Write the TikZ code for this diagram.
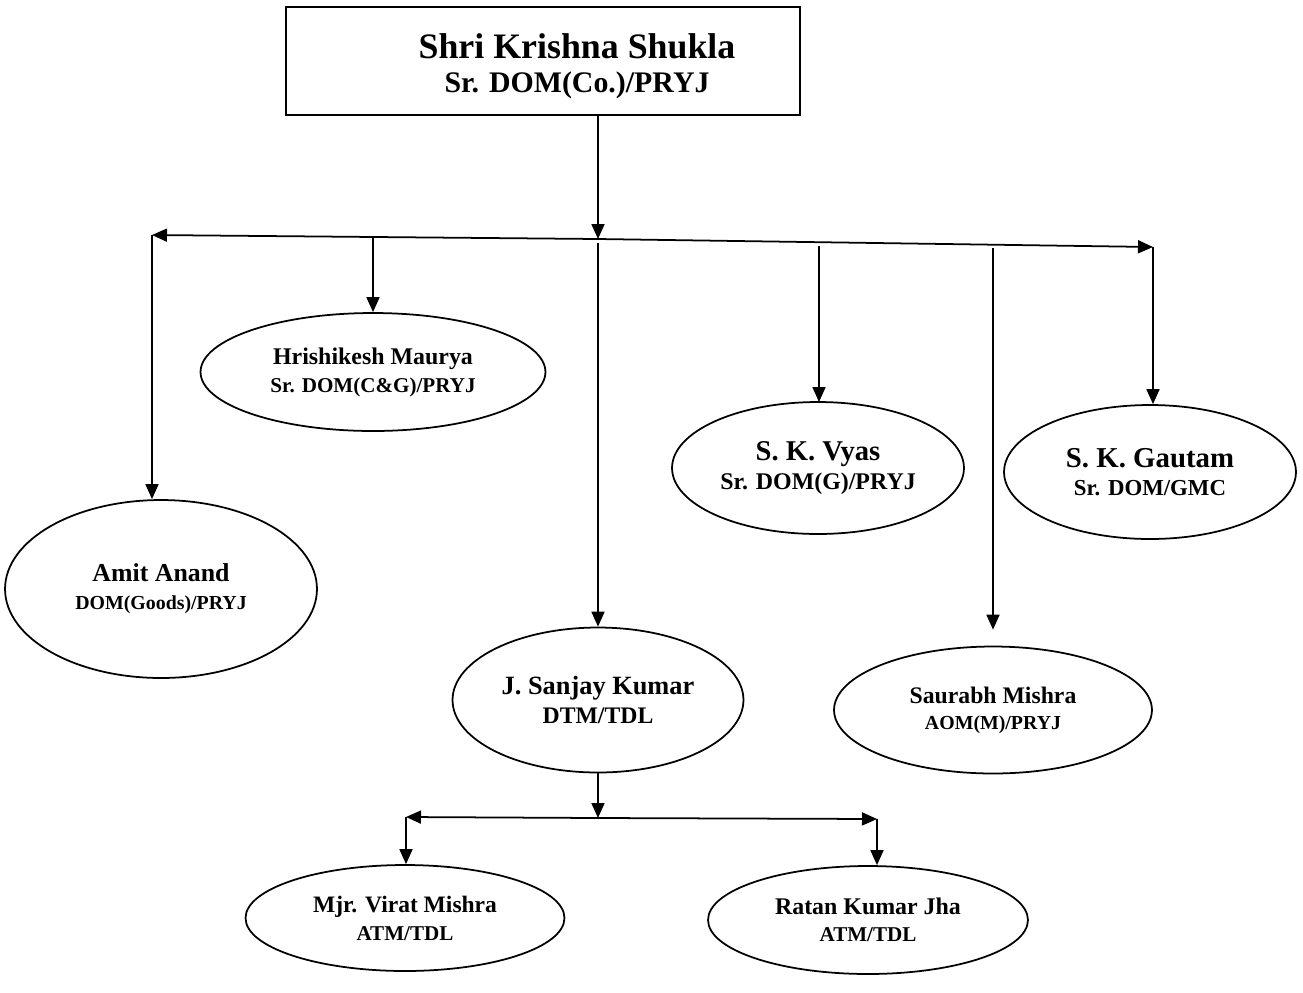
\documentclass[tikz,border=0pt]{standalone}
\usepackage{fontspec}
\setmainfont{Liberation Serif}
\usetikzlibrary{arrows.meta,shapes.geometric,positioning}
\newcommand{\fs}[2]{\fontsize{#1}{#2}\selectfont}
\tikzset{
  person/.style={ellipse, draw, line width=1pt, inner sep=0pt, align=center},
  chief/.style={rectangle, draw, line width=1pt, inner sep=0pt},
  link/.style={line width=1pt, -{Triangle[length=0.3cm,width=0.26cm]}}
}

\begin{document}
\begin{tikzpicture}[x=0.02cm,y=-0.02cm]
\useasboundingbox (0,0) rectangle (1303,992);
% head of the division
\node[chief, minimum width=10.28cm, minimum height=2.16cm] (boss) at (543,61) {};
\node[align=center, inner sep=0pt, font=\bfseries\fs{17}{19.3}] (boss-name) at (577,66)
  {{\fs{20.4}{19.3}Shri Krishna Shukla}\\ Sr. DOM(Co.)/PRYJ};
% first level
\node[person, minimum width=6.9cm, minimum height=2.36cm, font=\bfseries\fs{12}{15.9}] (hrishi) at (373,372)
  {{\fs{13.6}{15.9}Hrishikesh Maurya}\\ Sr. DOM(C\&G)/PRYJ};
\node[person, minimum width=6.24cm, minimum height=3.56cm, font=\bfseries\fs{11.3}{15.9}] (amit) at (161,589)
  {{\fs{14.7}{15.9}Amit Anand}\\ DOM(Goods)/PRYJ};
\node[person, minimum width=5.82cm, minimum height=2.9cm, font=\bfseries\fs{13.5}{17}] (sanjay) at (598,700)
  {{\fs{15}{17}J. Sanjay Kumar}\\ DTM/TDL};
\node[person, minimum width=5.84cm, minimum height=2.64cm, font=\bfseries\fs{13.6}{16.4}] (vyas) at (818,468)
  {{\fs{16.3}{16.4}S. K. Vyas}\\ Sr. DOM(G)/PRYJ};
\node[person, minimum width=5.84cm, minimum height=2.68cm, font=\bfseries\fs{13}{15.9}] (gautam) at (1150,472)
  {{\fs{16.4}{15.9}S. K. Gautam}\\ Sr. DOM/GMC};
\node[person, minimum width=6.36cm, minimum height=2.54cm, font=\bfseries\fs{11.3}{14.7}] (saurabh) at (993,710)
  {{\fs{13.5}{14.7}Saurabh Mishra}\\ AOM(M)/PRYJ};
% second level
\node[person, minimum width=6.38cm, minimum height=2.12cm, font=\bfseries\fs{12}{15.9}] (virat) at (405,918)
  {{\fs{13.4}{15.9}Mjr. Virat Mishra}\\ ATM/TDL};
\node[person, minimum width=6.4cm, minimum height=2.16cm, font=\bfseries\fs{12}{15.3}] (ratan) at (868,920)
  {{\fs{13.6}{15.3}Ratan Kumar Jha}\\ ATM/TDL};
% bus lines
\coordinate (top) at (598,239);
\coordinate (busL) at (152,235);
\coordinate (busR) at (1153,247);
\draw[link] (boss.south -| top) -- (top);
\draw[link] (top) -- (busL);
\draw[link] (top) -- (busR);
\draw[link] (busL) -- (busL |- amit.north);
\draw[link] (373,238) -- (hrishi.north);
\draw[link] (598,243) -- (sanjay.north);
\draw[link] (819,246) -- (819,402);
\draw[link, shorten >=0.32cm] (993,248) -- (saurabh.north);
\draw[link] (busR) -- (busR |- gautam.north);
% under J. Sanjay Kumar
\coordinate (subtop) at (598,818);
\coordinate (subL) at (406,817);
\coordinate (subR) at (877,819);
\draw[link] (sanjay.south) -- (subtop);
\draw[link] (subtop) -- (subL);
\draw[link] (subtop) -- (subR);
\draw[link] (subL) -- (subL |- virat.north);
\draw[link] (subR) -- (subR |- ratan.north);
\end{tikzpicture}
\end{document}
